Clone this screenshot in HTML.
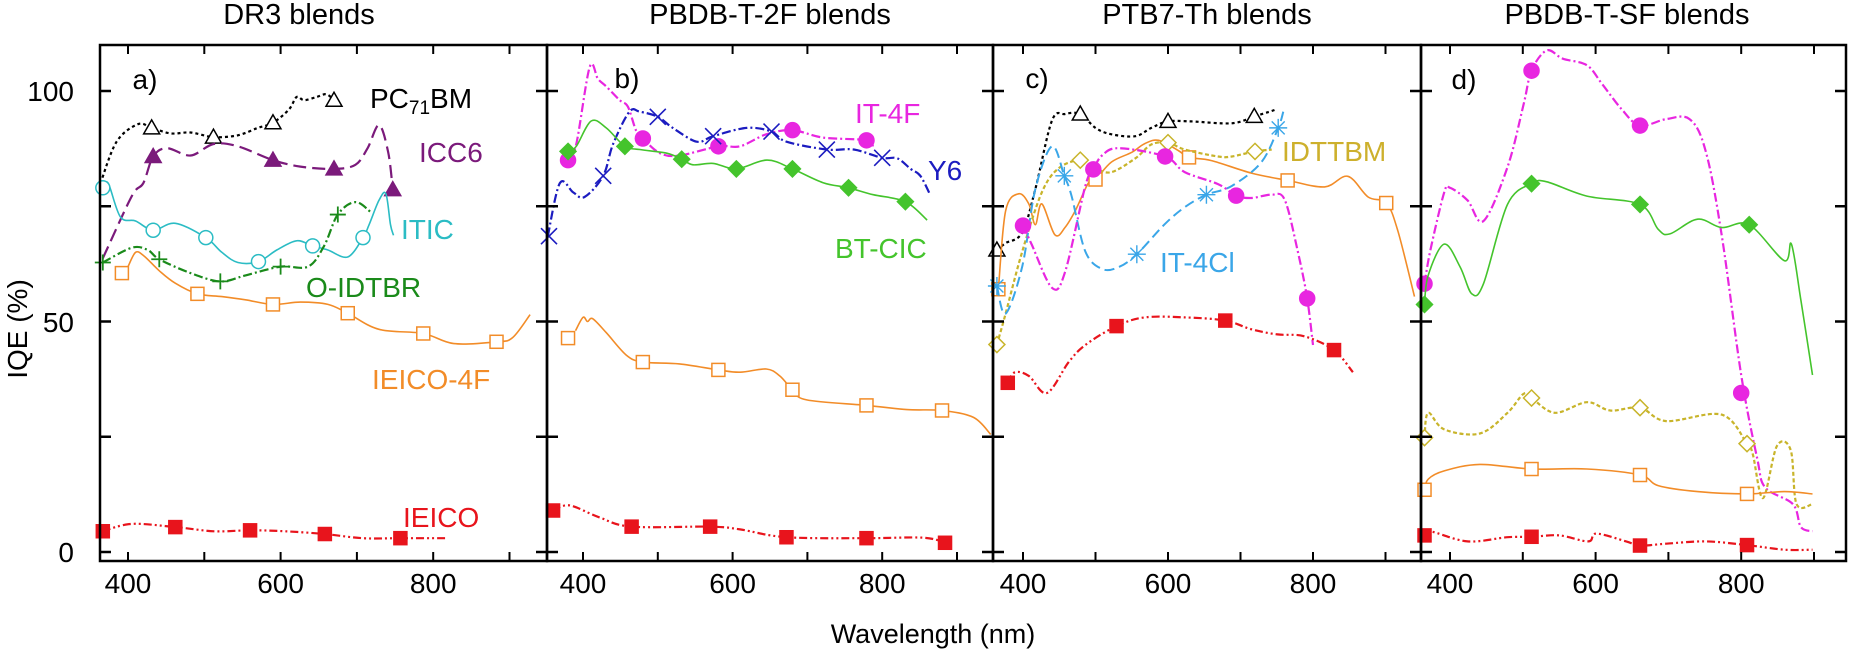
<!DOCTYPE html>
<html><head><meta charset="utf-8"><style>
html,body{margin:0;padding:0;background:#fff;}
svg{display:block;font-family:"Liberation Sans",Arial,sans-serif;}
</style></head><body>
<svg id="s" width="1852" height="651" viewBox="0 0 1852 651" xmlns="http://www.w3.org/2000/svg">
<g font-size="29" text-anchor="middle" fill="#000">
<text x="299" y="24">DR3 blends</text>
<text x="770" y="24">PBDB-T-2F blends</text>
<text x="1207" y="24">PTB7-Th blends</text>
<text x="1627" y="24">PBDB-T-SF blends</text>
</g>
<g font-size="28" fill="#000">
<text x="74" y="101" text-anchor="end">100</text>
<text x="74" y="332" text-anchor="end">50</text>
<text x="74" y="562" text-anchor="end">0</text>
<text transform="translate(27,329) rotate(-90)" text-anchor="middle" font-size="28">IQE (%)</text>
<text x="933" y="643" text-anchor="middle" font-size="27">Wavelength (nm)</text>
</g>
<g id="ticklabels" font-size="28" text-anchor="middle"></g>
<g id="plots"></g>
<g font-size="28">
<text x="145" y="89" text-anchor="middle">a)</text>
<text x="627" y="88" text-anchor="middle">b)</text>
<text x="1037" y="88" text-anchor="middle">c)</text>
<text x="1464" y="89" text-anchor="middle">d)</text>
</g>
<g font-size="28">
<text x="370" y="108" fill="#000">PC<tspan font-size="19" dy="6">71</tspan><tspan dy="-6">BM</tspan></text>
<text x="419" y="162" fill="#7b1a7b">ICC6</text>
<text x="401" y="239" fill="#2bbcc4">ITIC</text>
<text x="306" y="297" fill="#1a8a1a">O-IDTBR</text>
<text x="372" y="389" fill="#f28c28">IEICO-4F</text>
<text x="403" y="527" fill="#e8141c">IEICO</text>
<text x="855" y="123" fill="#e826e0">IT-4F</text>
<text x="928" y="180" fill="#1c1cc0">Y6</text>
<text x="835" y="258" fill="#44c42c">BT-CIC</text>
<text x="1282" y="161" fill="#cdb02c">IDTTBM</text>
<text x="1160" y="272" fill="#3aa6e8">IT-4Cl</text>
</g>
</svg>
<script>
var NS="http://www.w3.org/2000/svg";
var P=[{L:100,R:547,t:128,k:0.763},{L:547,R:993,t:583,k:0.748},{L:993,R:1421,t:1023,k:0.725},{L:1421,R:1846,t:1450,k:0.728}];
var TOP=45,BOT=561;
function Y(v){return 552-v*4.61;}
function el(n,a,p){var e=document.createElementNS(NS,n);for(var k in a)e.setAttribute(k,a[k]);(p||document.getElementById('plots')).appendChild(e);return e;}
var C={blk:"#000",pur:"#7b1a7b",cya:"#2bbcc4",grn:"#1a8a1a",org:"#f28c28",red:"#e8141c",mag:"#e826e0",blu:"#1c1cc0",lgr:"#44c42c",lbl:"#3aa6e8",olv:"#c8b42a"};
var D={dot:"3,3",ldash:"13,6",solid:"",dd:"9,3,2,3",ddd:"8,3,2,3,2,3",dash:"10,5",fdot:"4,2.5"};
function marker(type,x,y,c){
 var s=7;
 if(type=="tri"||type=="ftri"){el('polygon',{points:(x)+","+(y-s-1)+" "+(x-s-1)+","+(y+s-1)+" "+(x+s+1)+","+(y+s-1),fill:type=="ftri"?c:"#fff",stroke:c,"stroke-width":1.5});}
 else if(type=="circ"||type=="fcirc"){el('circle',{cx:x,cy:y,r:type=="fcirc"?7.5:7,fill:type=="fcirc"?c:"#fff",stroke:c,"stroke-width":1.5});}
 else if(type=="sq"||type=="fsq"){el('rect',{x:x-6.5,y:y-6.5,width:13,height:13,fill:type=="fsq"?c:"#fff",stroke:c,"stroke-width":1.5});}
 else if(type=="dia"||type=="fdia"){el('polygon',{points:x+","+(y-8)+" "+(x+8)+","+y+" "+x+","+(y+8)+" "+(x-8)+","+y,fill:type=="fdia"?c:"#fff",stroke:c,"stroke-width":1.5});}
 else if(type=="plus"){el('path',{d:"M"+(x-8)+" "+y+"H"+(x+8)+"M"+x+" "+(y-8)+"V"+(y+8),stroke:c,"stroke-width":1.8,fill:"none"});}
 else if(type=="x"){el('path',{d:"M"+(x-8)+" "+(y-8)+"L"+(x+8)+" "+(y+8)+"M"+(x+8)+" "+(y-8)+"L"+(x-8)+" "+(y+8),stroke:c,"stroke-width":1.6,fill:"none"});}
 else if(type=="ast"){el('path',{d:"M"+(x-9)+" "+y+"H"+(x+9)+"M"+x+" "+(y-9)+"V"+(y+9)+"M"+(x-6.5)+" "+(y-6.5)+"L"+(x+6.5)+" "+(y+6.5)+"M"+(x+6.5)+" "+(y-6.5)+"L"+(x-6.5)+" "+(y+6.5),stroke:c,"stroke-width":1.4,fill:"none"});}
}
function series(pi,pts,mk,c,dash,mtype,w){
 var p=P[pi];function X(l){return p.t+(l-400)*p.k;}
 var q=pts.map(function(a){return [Math.max(p.L,Math.min(p.R,X(a[0]))),Y(a[1])];});
 var d="M"+q[0][0].toFixed(1)+" "+q[0][1].toFixed(1);
 for(var i=0;i<q.length-1;i++){
  var p0=q[Math.max(0,i-1)],p1=q[i],p2=q[i+1],p3=q[Math.min(q.length-1,i+2)];
  var c1x=p1[0]+(p2[0]-p0[0])/6,c1y=p1[1]+(p2[1]-p0[1])/6,c2x=p2[0]-(p3[0]-p1[0])/6,c2y=p2[1]-(p3[1]-p1[1])/6;
  d+="C"+c1x.toFixed(1)+" "+c1y.toFixed(1)+" "+c2x.toFixed(1)+" "+c2y.toFixed(1)+" "+p2[0].toFixed(1)+" "+p2[1].toFixed(1);
 }
 var a={d:d,fill:"none",stroke:c,"stroke-width":w||2,"stroke-linejoin":"round"};if(dash)a["stroke-dasharray"]=dash;
 el('path',a);
 mk.forEach(function(m){marker(mtype,Math.max(p.L+2,X(m[0])),Y(m[1]),c);});
}
// Panel a
series(0,[[364,80],[385,89],[413,92.8],[431,92],[456,90.8],[482,91],[512,90],[544,90.4],[570,92],[590,93.1],[611,96],[621,98.7],[631,98],[647,98.7],[660,99.3],[670,98]],[[431,92],[512,90],[590,93.1],[670,98]],C.blk,D.dot,"tri",2.2);
series(0,[[367,63.7],[405,77.2],[420,80],[433,85.8],[451,87.6],[482,86],[512,88.5],[544,88],[590,85],[626,83.6],[670,83.1],[698,84],[714,87.6],[729,92.6],[741,86.7],[747,78.6]],[[433,85.8],[590,85],[670,83.1],[747,78.6]],C.pur,D.ldash,"ftri",2.2);
series(0,[[367,79],[374,80],[390,72.7],[410,71.8],[433,69.8],[462,71.3],[502,68.2],[523,65],[544,62.8],[571,63],[595,65.5],[621,67.5],[642,66.4],[662,65.5],[688,64],[708,68.2],[716,71],[729,76.3],[738,77.7],[744,71],[748,68.7]],[[367,79],[433,69.8],[502,68.2],[571,63],[642,66.4],[708,68.2]],C.cya,D.solid,"circ",1.6);
series(0,[[367,62.8],[405,66],[426,65.5],[441,63.5],[482,60.5],[521,58.7],[554,60],[600,61.9],[636,61.9],[657,66.4],[675,73.2],[698,75.9],[719,73.6]],[[367,62.8],[441,63.5],[521,58.7],[600,61.9],[675,73.2]],C.grn,D.dd,"plus",2.2);
series(0,[[400,61.9],[410,65],[421,64.2],[441,61],[462,58.3],[491,56],[523,55.4],[554,54.7],[590,53.7],[626,54.2],[662,53.7],[688,51.8],[729,48.3],[787,47.4],[827,45.2],[883,45.6],[904,46.5],[927,51.5]],[[392,60.5],[491,56],[590,53.7],[688,51.8],[787,47.4],[883,45.6]],C.org,D.solid,"sq",1.6);
series(0,[[367,4.5],[405,6.1],[462,5.4],[513,4.5],[560,4.7],[606,4.5],[658,3.9],[708,3],[757,3],[819,3]],[[367,4.5],[462,5.4],[560,4.7],[658,3.9],[757,3]],C.red,D.ddd,"fsq",2.2);
// Panel b
series(1,[[380,85],[391,88.5],[409,105.2],[420,102.6],[431,101],[449,98],[460,96.6],[471,91.4],[480,89.7],[503,86.5],[529,86],[581,88],[610,88],[645,90.6],[680,91.5],[721,89.9],[779,89.3],[788,87.6]],[[380,85],[480,89.7],[581,88],[680,91.5],[779,89.3]],C.mag,D.dd,"fcirc",2.2);
series(1,[[353,68.5],[369,80],[387,78],[402,77],[427,81.6],[440,88.4],[462,95.5],[476,95.5],[500,94.4],[520,92],[552,89],[574,90.2],[619,92],[652,91.2],[672,89],[726,87.3],[762,87.3],[800,85.5],[820,85.4],[838,83.1],[851,81.6],[864,77.5]],[[353,68.5],[427,81.6],[500,94.4],[574,90.2],[652,91.2],[726,87.3],[800,85.5]],C.blu,D.dd,"x",2.2);
series(1,[[380,86.9],[391,88],[411,93.5],[431,92],[456,88],[476,87.3],[512,86.5],[532,85.2],[547,84],[574,84.3],[605,83.1],[646,85],[680,83.1],[721,80.1],[755,79],[788,77.5],[831,76],[860,72]],[[380,86.9],[456,88],[532,85.2],[605,83.1],[680,83.1],[755,79],[831,76]],C.lgr,D.solid,"fdia",1.6);
series(1,[[390,48],[400,50.9],[406,50],[413,50.6],[431,47.6],[458,42.7],[480,41.2],[529,40.8],[581,39.5],[610,39],[645,39.7],[663,38.2],[680,35.2],[699,33],[779,31.8],[833,30.9],[880,30.7],[922,29.2],[945,25.5]],[[380,46.4],[480,41.2],[581,39.5],[680,35.2],[779,31.8],[880,30.7]],C.org,D.solid,"sq",1.6);
series(1,[[360,9],[382,10.1],[422,7.5],[465,5.5],[570,5.5],[610,4.9],[672,3.2],[779,3],[855,3.1],[884,2]],[[360,9],[465,5.5],[570,5.5],[672,3.2],[779,3],[884,2]],C.red,D.ddd,"fsq",2.2);
// Panel c
series(2,[[364,65.5],[376,67],[399,69.3],[417,78.7],[440,93.6],[458,95],[479,95],[500,92],[522,90.6],[555,90.2],[577,92],[600,93.4],[632,93.4],[688,93],[719,94.5],[738,95.4],[749,96]],[[364,65.5],[479,95],[600,93.4],[719,94.5]],C.blk,D.dot,"tri",2.2);
series(2,[[366,57],[376,74],[394,77.7],[408,75.5],[417,71],[426,75.5],[444,68.8],[458,70.4],[472,74],[490,80],[500,80.8],[522,84.6],[550,86.7],[568,88.6],[587,89.3],[614,87.1],[629,85.6],[660,84.9],[715,82.2],[765,80.6],[816,79.2],[848,81.5],[876,77],[901,75.7],[917,69.7],[940,55.4]],[[366,57],[500,80.8],[629,85.6],[765,80.6],[901,75.7]],C.org,D.solid,"sq",1.6);
series(2,[[364,45],[376,51.7],[399,65.2],[426,78],[449,83.2],[479,85],[500,83.2],[522,82.4],[555,85.4],[577,88.4],[600,88.8],[623,87.3],[669,85.8],[688,85.8],[720,86.9],[743,87.3]],[[364,45],[479,85],[600,88.8],[720,86.9]],C.olv,D.fdot,"dia",2.2);
series(2,[[364,57.7],[376,51.7],[399,62],[417,78.7],[440,88],[457,81.6],[467,77.2],[486,65.2],[509,61.4],[532,61.8],[557,64.6],[596,71.2],[624,74.9],[653,77.5],[688,79.4],[729,84.6],[752,92],[759,95.5]],[[364,57.7],[457,81.6],[557,64.6],[653,77.5],[752,92]],C.lbl,D.dash,"ast",2);
series(2,[[400,70.8],[412,66.7],[440,57.3],[458,60.7],[486,79.4],[497,83],[509,86],[532,87.6],[596,85.8],[623,82.4],[669,79.8],[694,77.3],[715,76.8],[743,77.5],[761,76.4],[779,65.2],[792,55],[800,44.9]],[[400,70.8],[497,83],[596,85.8],[694,77.3],[792,55]],C.mag,D.dd,"fcirc",2.2);
series(2,[[379,36.7],[389,39],[408,38.2],[433,34.5],[463,41.2],[486,44.9],[529,49],[568,50.9],[623,50.9],[679,50.2],[715,48.3],[751,47.2],[788,46.8],[829,43.8],[855,39]],[[379,36.7],[529,49],[679,50.2],[829,43.8]],C.red,D.ddd,"fsq",2.2);
// Panel d
series(3,[[365,58.2],[373,65.4],[392,78],[400,79],[424,76.3],[446,71.8],[479,83.5],[501,97],[512,104.4],[533,108.8],[555,107],[588,105.6],[609,101.5],[636,96],[661,92.5],[697,93.9],[729,93.9],[751,87.1],[773,69],[800,38.4],[822,20.3],[833,14],[871,10.4],[882,5.4],[898,4.5]],[[365,58.2],[512,104.4],[661,92.5],[800,34.5]],C.mag,D.dd,"fcirc",2.2);
series(3,[[365,53.7],[370,60],[392,66.8],[414,61.8],[430,56],[446,58.2],[479,75.4],[512,79.9],[533,80.3],[588,77.2],[661,75.4],[686,70],[702,69],[740,72.2],[773,70.4],[811,71],[859,63.2],[869,66.8],[882,54.6],[898,38.4]],[[365,53.7],[512,79.9],[661,75.4],[811,71]],C.lgr,D.solid,"fdia",1.6);
series(3,[[365,24.8],[370,30.2],[392,26.6],[441,25.7],[479,30.2],[501,34.3],[512,33.4],[544,30.2],[588,32.5],[620,30.7],[661,31.3],[697,28.4],[773,29.8],[808,23.5],[816,21.2],[830,11.7],[849,23],[868,22.1],[876,10.4],[898,10.4]],[[365,24.8],[512,33.4],[661,31.3],[808,23.5]],C.olv,D.fdot,"dia",2.2);
series(3,[[365,13.5],[370,15.8],[392,17.6],[441,19],[512,18],[588,18],[661,16.7],[686,14.4],[740,13.1],[808,12.6],[859,13.1],[898,12.6]],[[365,13.5],[512,18],[661,16.7],[808,12.6]],C.org,D.solid,"sq",1.6);
series(3,[[365,3.6],[373,4.5],[424,2.3],[479,3.2],[512,3.3],[550,3.6],[590,2.3],[601,4],[642,2.3],[661,1.4],[697,1.8],[751,2.3],[808,1.5],[859,0.5],[898,0.5]],[[365,3.6],[512,3.3],[661,1.4],[808,1.5]],C.red,D.ddd,"fsq",2.2);
// frames and ticks
var tl=document.getElementById('ticklabels');
P.forEach(function(p){
 el('rect',{x:p.L,y:TOP,width:p.R-p.L,height:BOT-TOP,fill:"none",stroke:"#000","stroke-width":2.5});
 for(var v=0;v<=100;v+=25){var y=Y(v);el('path',{d:"M"+p.L+" "+y+"h11M"+p.R+" "+y+"h-11",stroke:"#000","stroke-width":2.5});}
 for(var l=400;l<=900;l+=100){var x=p.t+(l-400)*p.k;if(x>p.R-2)continue;el('path',{d:"M"+x+" "+BOT+"v-9M"+x+" "+TOP+"v9",stroke:"#000","stroke-width":2});
  if(l%200==0){var t=el('text',{x:x,y:593},tl);t.textContent=l;}}
});
</script>
</body></html>
